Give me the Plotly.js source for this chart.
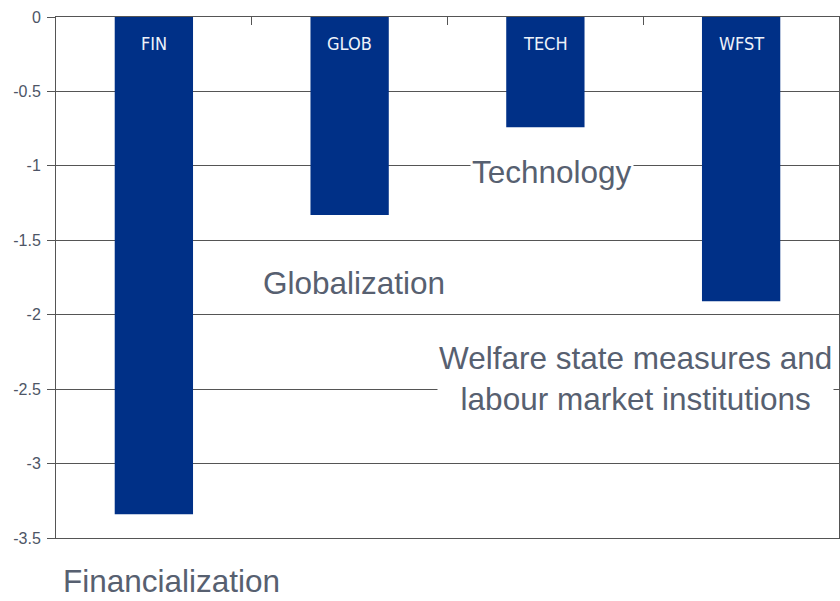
<!DOCTYPE html>
<html>
<head>
<meta charset="utf-8">
<script src="https://cdn.plot.ly/plotly-3.0.1.min.js"></script>
<style>html,body{margin:0;padding:0;background:#fff;}</style>
</head>
<body>
<div id="chart" style="width:840px;height:601px;"></div>
<script>
var categories = ["FIN", "GLOB", "TECH", "WFST"];
var values = [-3.34, -1.33, -0.74, -1.91];
var tickVals = [0, -0.5, -1, -1.5, -2, -2.5, -3, -3.5];
var tickText = ["0", "-0.5", "-1", "-1.5", "-2", "-2.5", "-3", "-3.5"];
var noteTexts = ["Technology", "Globalization", "Welfare state measures and<br>labour market institutions", "Financialization"];

var textColor = "#576070";
var notePos = [[0.634, 0.7025], [0.381, 0.4894], [0.740, 0.307], [0.148, -0.083]];

var annotations = categories.map(function (c) {
  return {x: c, y: 0, xref: "x", yref: "y", text: c, showarrow: false, yshift: -26,
    xanchor: "center", yanchor: "middle",
    font: {family: "Liberation Sans Narrow, DejaVu Sans Condensed, sans-serif", size: 18, color: "#eef2fa"}};
});
noteTexts.forEach(function (t, i) {
  annotations.push({x: notePos[i][0], y: notePos[i][1], xref: "paper", yref: "paper", text: t,
    xanchor: "center", yanchor: "middle",
    showarrow: false, bgcolor: "#ffffff", borderpad: i === 3 ? 0 : 1, align: "center",
    font: {family: "Liberation Sans, Arial, sans-serif", size: 31.5, color: textColor}});
});

var trace = {
  type: "bar", x: categories, y: values,
  marker: {color: "#003087"}, hoverinfo: "none"
};

var layout = {
  width: 840, height: 601,
  margin: {l: 56, r: 1, t: 17, b: 63},
  paper_bgcolor: "#ffffff", plot_bgcolor: "#ffffff",
  bargap: 0.6,
  showlegend: false,
  xaxis: {
    side: "top", showticklabels: false, showline: true, linecolor: "#555555", linewidth: 1,
    mirror: true, ticks: "inside", tickson: "boundaries", ticklen: 8, tickcolor: "#555555",
    showgrid: false, zeroline: false, fixedrange: true
  },
  yaxis: {
    range: [-3.5, 0], tickvals: tickVals, ticktext: tickText,
    showline: true, linecolor: "#555555", linewidth: 1, mirror: true,
    ticks: "outside", ticklen: 8, tickcolor: "#555555", ticklabelstandoff: 3,
    showgrid: true, gridcolor: "#555555", gridwidth: 1, zeroline: false,
    tickfont: {family: "Liberation Sans, Arial, sans-serif", size: 16, color: "#4d5566"},
    fixedrange: true
  },
  annotations: annotations
};

Plotly.newPlot("chart", [trace], layout, {displayModeBar: false, staticPlot: true});
</script>
</body>
</html>
